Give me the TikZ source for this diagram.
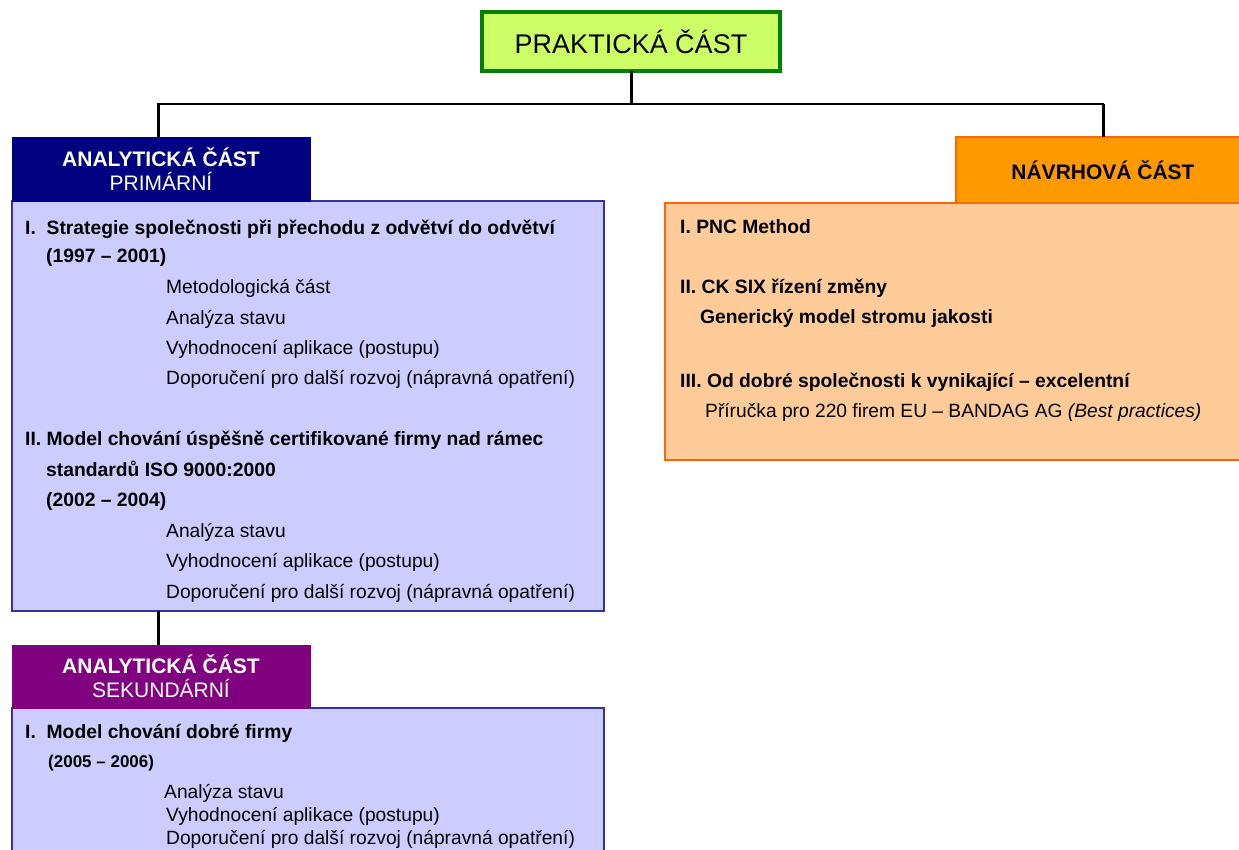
\documentclass[tikz,border=0pt]{standalone}
\usepackage{fontspec}
\setmainfont{Liberation Sans}
\definecolor{limefill}{RGB}{204,255,102}
\definecolor{limeedge}{RGB}{0,128,0}
\definecolor{navyhead}{RGB}{0,0,128}
\definecolor{purplehead}{RGB}{128,0,128}
\definecolor{lavfill}{RGB}{204,204,255}
\definecolor{lavedge}{RGB}{51,51,153}
\definecolor{orangehead}{RGB}{255,153,0}
\definecolor{orangeedge}{RGB}{255,102,0}
\definecolor{peachfill}{RGB}{255,204,153}
\tikzset{
  panel/.style={anchor=north west, inner sep=0pt, outer sep=0pt},
  headtext/.style={font=\fontsize{21}{24}\selectfont, align=center},
  bodyb/.style={anchor=base west, inner sep=0pt, font=\fontsize{19.3}{22}\selectfont\bfseries},
  bodyr/.style={anchor=base west, inner sep=0pt, font=\fontsize{19.2}{22}\selectfont},
  yearsb/.style={anchor=base west, inner sep=0pt, font=\fontsize{17}{20}\selectfont\bfseries},
  link/.style={line width=3pt, black},
  bus/.style={line width=2pt, black},
}
\begin{document}
\begin{tikzpicture}[x=1pt,y=-1pt]
\clip (0,0) rectangle (1239,850);
\fill[white] (0,0) rectangle (1239,850);

% top node
\node[panel, draw=limeedge, line width=3.5pt, fill=limefill,
      minimum width=298, minimum height=59, font=\fontsize{27}{30}\selectfont]
      (top) at (482,12) {PRAKTICKÁ ČÁST};

% left column: primary analytical part
\node[panel, draw=lavedge, line width=2pt, fill=lavfill,
      minimum width=592, minimum height=410] (prim) at (12,201) {};
\node[panel, draw=navyhead, fill=navyhead, minimum width=298, minimum height=64,
      text=white, headtext] (primhead) at (12,137)
      {\textbf{ANALYTICKÁ ČÁST}\\PRIMÁRNÍ};

\node[bodyb] (p1)  at (25,235)  {I.\ \ Strategie společnosti při přechodu z odvětví do odvětví};
\node[bodyb] (p2)  at (46,263)  {(1997 – 2001)};
\node[bodyr] (p3)  at (166,294) {Metodologická část};
\node[bodyr] (p4)  at (166,324) {Analýza stavu};
\node[bodyr] (p5)  at (166,354) {Vyhodnocení aplikace (postupu)};
\node[bodyr] (p6)  at (166,384) {Doporučení pro další rozvoj (nápravná opatření)};
\node[bodyb] (p7)  at (25,445)  {II. Model chování úspěšně certifikované firmy nad rámec};
\node[bodyb] (p8)  at (46,476)  {standardů ISO 9000:2000};
\node[bodyb] (p9)  at (46,506)  {(2002 – 2004)};
\node[bodyr] (p10) at (166,537) {Analýza stavu};
\node[bodyr] (p11) at (166,567) {Vyhodnocení aplikace (postupu)};
\node[bodyr] (p12) at (166,598) {Doporučení pro další rozvoj (nápravná opatření)};

% left column: secondary analytical part
\node[panel, draw=lavedge, line width=2pt, fill=lavfill,
      minimum width=592, minimum height=170] (sec) at (12,708) {};
\node[panel, draw=purplehead, fill=purplehead, minimum width=298, minimum height=63,
      text=white, headtext] (sechead) at (12,645)
      {\textbf{ANALYTICKÁ ČÁST}\\SEKUNDÁRNÍ};

\node[bodyb]  (s1) at (25,738)  {I.\ \ Model chování dobré firmy};
\node[yearsb] (s2) at (48,767)  {(2005 – 2006)};
\node[bodyr]  (s3) at (164,798) {Analýza stavu};
\node[bodyr]  (s4) at (166,821) {Vyhodnocení aplikace (postupu)};
\node[bodyr]  (s5) at (166,844) {Doporučení pro další rozvoj (nápravná opatření)};

% right column: design part
\node[panel, draw=orangeedge, line width=2pt, fill=peachfill,
      minimum width=600, minimum height=257] (des) at (665,203) {};
\node[panel, draw=orangeedge, line width=2pt, fill=orangehead,
      minimum width=294, minimum height=66, headtext] (deshead) at (956,137)
      {\textbf{NÁVRHOVÁ ČÁST}};

\node[bodyb] (d1) at (680,234) {I. PNC Method};
\node[bodyb] (d2) at (680,294) {II.\ CK SIX řízení změny};
\node[bodyb] (d3) at (700,323) {Generický model stromu jakosti};
\node[bodyb] (d4) at (680,387) {III.\ Od dobré společnosti k vynikající – excelentní};
\node[bodyr] (d5) at (705,417) {Příručka pro 220 firem EU – BANDAG AG \textit{(Best practices)}};

% connectors
\coordinate (dropL) at ([xshift=146pt]primhead.north west);
\draw[link] (top.south) -- ++(0,33);
\draw[bus] (dropL) -- ++(0,-33) -| (deshead.north);
\draw[link] (dropL) -- ++(0,-33);
\draw[link] (deshead.north) -- ++(0,-33);
\draw[link] (prim.south -| dropL) -- (sechead.north -| dropL);
\end{tikzpicture}
\end{document}
